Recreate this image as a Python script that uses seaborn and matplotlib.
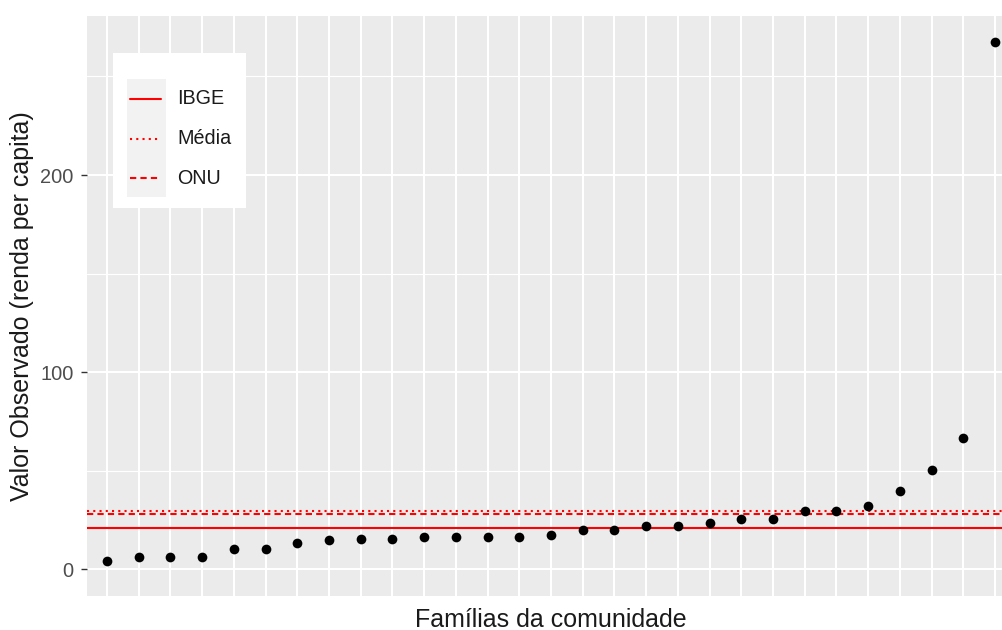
import numpy as np
import pandas as pd
import matplotlib
matplotlib.use("Agg")
import matplotlib.pyplot as plt
import seaborn as sns
from matplotlib.patches import Rectangle
from matplotlib.lines import Line2D

# ---- data ----
familias = [f"F{i}" for i in range(1, 30)]
renda = [4.4, 6.1, 6.1, 6.1, 10.3, 10.3, 13.2, 14.7, 15.5, 15.5,
         16.4, 16.4, 16.4, 16.4, 17.6, 19.9, 19.9, 21.8, 21.8, 23.5,
         25.4, 25.4, 29.6, 29.6, 32.1, 39.9, 50.3, 66.8, 267.5]
ibge = 21.0
onu = 28.0
media = float(np.mean(renda))
ref_labels = ["IBGE", "Média", "ONU"]
ref_values = [ibge, media, onu]
ref_styles = ["-", (0, (1, 2)), (0, (3, 2))]

df = pd.DataFrame({"familia": familias, "renda": renda})

sns.set_theme(style="darkgrid")
plt.rcParams['font.family'] = ['Liberation Sans', 'DejaVu Sans']

W, H = 1003, 630
fig = plt.figure(figsize=(W / 100, H / 100), dpi=100)
left, right, top, bottom = 87, 1014, 15.7, 596
ax = fig.add_axes([left / W, 1 - bottom / H, (right - left) / W, (bottom - top) / H])
ax.set_facecolor("#EBEBEB")

sns.stripplot(data=df, x="familia", y="renda", order=familias, jitter=False,
              color="black", size=7, linewidth=0, ax=ax, zorder=3)

for lab, val, ls in zip(ref_labels, ref_values, ref_styles):
    ax.axhline(val, color="#FF0000", linewidth=1.5, linestyle=ls, zorder=2)

ax.set_xlim(-0.63, 28.6)
ax.set_ylim(-13.5, 280.8)
ax.set_yticks([0, 100, 200])
ax.set_yticks([50, 150, 250], minor=True)
ax.set_xticks(range(len(familias)))
ax.set_xticklabels([])
ax.grid(which="major", color="white", linewidth=1.5)
ax.grid(which="minor", axis="y", color="white", linewidth=0.8)
ax.tick_params(axis="x", length=0)
ax.tick_params(axis="y", which="major", length=4.5, width=1, color="#333333",
               labelsize=14.4, labelcolor="#4D4D4D", pad=5, left=True)
ax.tick_params(axis="y", which="minor", length=0)
for s in ax.spines.values():
    s.set_visible(False)

ax.set_xlabel("Famílias da comunidade", fontsize=18, color="#1A1A1A")
ax.set_ylabel("Valor Observado (renda per capita)", fontsize=18, color="#1A1A1A")
ax.xaxis.set_label_coords((551 - left) / (right - left), -(620 - bottom) / (bottom - top))
ax.xaxis.label.set_va("center")
ax.yaxis.set_label_coords(-(left - 22.5) / (right - left), 0.5)
ax.yaxis.label.set_va("center")

# ---- legend (drawn like ggplot's inside legend) ----
def fx(px):
    return px / W

def fy(py):
    return 1 - py / H

fig.add_artist(Rectangle((fx(113), fy(208)), fx(246) - fx(113), fy(53) - fy(208),
                         transform=fig.transFigure, facecolor="white", edgecolor="none", zorder=5))
fig.add_artist(Rectangle((fx(127), fy(197)), fx(166) - fx(127), fy(79) - fy(197),
                         transform=fig.transFigure, facecolor="#F2F2F2", edgecolor="none", zorder=6))
key_y = [99, 138.5, 178]
for lab, ls, yy in zip(ref_labels, ref_styles, key_y):
    fig.add_artist(Line2D([fx(130), fx(161)], [fy(yy), fy(yy)], transform=fig.transFigure,
                          color="#FF0000", linewidth=1.5, linestyle=ls, zorder=7))
    fig.text(fx(177.5), fy(yy), lab, fontsize=14.2, va="center", ha="left", color="#1A1A1A", zorder=7)

fig.savefig("out.png", dpi=100)
